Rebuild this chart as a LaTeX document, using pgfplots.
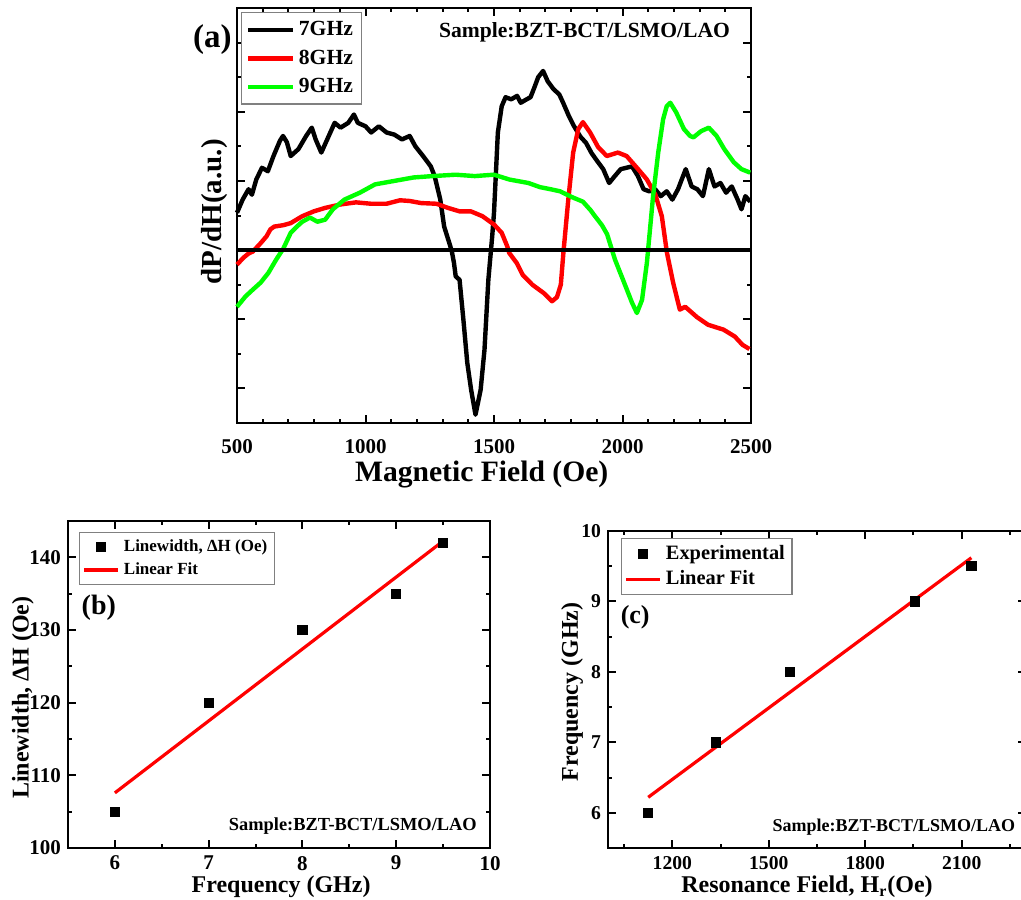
\documentclass[border=0pt]{standalone}
\usepackage{fontspec}
\setmainfont{Liberation Serif}
\usepackage{pgfplots}
\pgfplotsset{compat=1.18}

\definecolor{fmrred}{RGB}{255,0,0}
\definecolor{fmrgreen}{RGB}{0,255,0}

\pgfplotsset{
  panel/.style={
    scale only axis,
    axis line style={line width=1.3pt},
    every tick/.style={black, line width=1pt},
    major tick length=4pt, minor tick length=2pt,
    tick align=inside,
    /pgf/number format/assume math mode=true,
    /pgf/number format/1000 sep={},
    tick label style={font=\fontsize{10.5}{12}\selectfont\bfseries},
    label style={font=\fontsize{12}{14}\selectfont\bfseries},
    legend cell align=left,
    clip=false,
  }
}

\begin{document}
\begin{tikzpicture}
% ---------------- (a) FMR derivative spectra ----------------
\begin{axis}[panel,
  at={(118.5pt,-211.5pt)}, anchor=south west,
  width=257pt, height=207.5pt,
  xmin=500, xmax=2500, ymin=-2.5, ymax=3.5,
  xtick={500,1000,...,2500}, minor x tick num=4,
  ytick={-2,-1,...,3}, minor y tick num=1, yticklabels={},
  xticklabel style={yshift=-4.5pt},
  xlabel={Magnetic Field (Oe)}, ylabel={dP/dH(a.u.)},
  xlabel style={font=\fontsize{14.8}{16}\selectfont\bfseries,
    at={(axis description cs:0.476,-0.125)}, anchor=center},
  ylabel style={font=\fontsize{14.5}{16}\selectfont\bfseries,
    at={(axis description cs:-0.044,0.509)}, anchor=center},
  legend style={at={(axis description cs:0.008,0.99)}, anchor=north west,
    draw=gray, line width=0.6pt, font=\fontsize{10.8}{12}\selectfont\bfseries,
    row sep=1.6pt, inner sep=2.2pt},
  legend image code/.code={\draw[#1] (0cm,0cm) -- (0.78cm,0cm);},
]
\addplot[black, line width=2.2pt, line join=round] coordinates {
(500,0.54) (522,0.73) (545,0.88) (558,0.80) (575,1.02) (597,1.19) (620,1.14)
(642,1.36) (667,1.58) (679,1.65) (694,1.56) (709,1.36) (739,1.46) (769,1.65)
(791,1.77) (806,1.60) (828,1.41) (851,1.60) (880,1.84) (903,1.77) (933,1.84)
(955,1.96) (970,1.84) (1000,1.79) (1022,1.70) (1052,1.79) (1082,1.70) (1112,1.67)
(1142,1.60) (1172,1.65) (1194,1.50) (1224,1.36) (1254,1.21) (1269,1.07) (1291,0.73)
(1306,0.34) (1328,0.08) (1336,-0.02) (1344,-0.18) (1351,-0.38) (1366,-0.43)
(1381,-1.01) (1396,-1.63) (1411,-2.02) (1428,-2.38) (1448,-2.02) (1463,-1.44)
(1478,-0.43) (1493,0.20) (1500,0.54) (1515,1.70) (1530,2.08) (1545,2.21)
(1567,2.18) (1590,2.23) (1604,2.13) (1627,2.18) (1642,2.21) (1657,2.35)
(1672,2.50) (1691,2.59) (1709,2.44) (1731,2.33) (1754,2.25) (1769,2.13)
(1791,1.94) (1810,1.80) (1836,1.64) (1858,1.55) (1880,1.40) (1903,1.28)
(1925,1.17) (1948,0.97) (1970,1.07) (1993,1.17) (2015,1.19) (2037,1.21)
(2060,1.07) (2082,0.88) (2104,0.85) (2127,0.88) (2149,0.78) (2172,0.85)
(2194,0.73) (2216,0.88) (2246,1.17) (2269,0.92) (2291,0.88) (2313,0.78)
(2336,1.17) (2358,0.92) (2381,0.97) (2403,0.83) (2425,0.92) (2448,0.73)
(2463,0.59) (2478,0.78) (2497,0.70)
};
\addlegendentry{7GHz}
\addplot[fmrred, line width=2.2pt, line join=round] coordinates {
(500,-0.21) (525,-0.11) (545,-0.05) (562,-0.02) (592,0.10) (615,0.20) (630,0.30)
(645,0.34) (680,0.36) (709,0.39) (754,0.49) (799,0.56) (843,0.61) (903,0.66)
(963,0.69) (1022,0.67) (1082,0.67) (1134,0.72) (1172,0.71) (1216,0.68) (1276,0.67)
(1321,0.61) (1366,0.56) (1410,0.56) (1455,0.49) (1500,0.37) (1530,0.25) (1552,0.05)
(1559,-0.04) (1589,-0.19) (1612,-0.36) (1649,-0.50) (1693,-0.62) (1726,-0.74)
(1745,-0.68) (1760,-0.50) (1770,-0.04) (1788,0.69) (1808,1.41) (1828,1.75)
(1846,1.85) (1874,1.70) (1905,1.49) (1939,1.36) (1982,1.41) (2016,1.36)
(2056,1.19) (2095,1.02) (2128,0.80) (2153,0.49) (2173,-0.04) (2197,-0.47)
(2223,-0.86) (2244,-0.82) (2290,-0.97) (2333,-1.08) (2393,-1.15) (2437,-1.25)
(2467,-1.37) (2494,-1.43)
};
\addlegendentry{8GHz}
\addplot[fmrgreen, line width=2.2pt, line join=round] coordinates {
(500,-0.82) (533,-0.67) (562,-0.57) (592,-0.47) (622,-0.33) (652,-0.14) (680,0.02)
(709,0.25) (730,0.33) (754,0.41) (784,0.47) (813,0.41) (843,0.44) (873,0.59)
(918,0.73) (978,0.83) (1037,0.95) (1112,1.00) (1187,1.05) (1261,1.07) (1351,1.09)
(1425,1.07) (1500,1.09) (1560,1.02) (1634,0.97) (1679,0.91) (1720,0.88) (1757,0.85)
(1807,0.76) (1846,0.70) (1875,0.58) (1893,0.49) (1920,0.36) (1940,0.23)
(1971,-0.14) (2002,-0.43) (2037,-0.76) (2056,-0.91) (2076,-0.72) (2095,-0.18)
(2119,0.78) (2139,1.41) (2158,1.89) (2172,2.08) (2186,2.13) (2209,1.99)
(2239,1.75) (2263,1.65) (2276,1.63) (2306,1.72) (2336,1.77) (2366,1.65)
(2396,1.46) (2433,1.27) (2463,1.17) (2497,1.12)
};
\addlegendentry{9GHz}
% zero baseline
\addplot[black, line width=1.6pt, forget plot] coordinates {(500,0) (2500,0)};
\node[font=\fontsize{16.5}{18}\selectfont\bfseries, anchor=center]
  at (axis description cs:-0.048,0.925) {(a)};
\node[font=\fontsize{10.8}{12}\selectfont\bfseries, anchor=center]
  at (axis description cs:0.676,0.942) {Sample:BZT-BCT/LSMO/LAO};
\end{axis}

% ---------------- (b) linewidth vs frequency ----------------
\begin{axis}[panel,
  at={(34pt,-424pt)}, anchor=south west,
  width=211pt, height=163.5pt,
  xmin=5.5, xmax=10, ymin=100, ymax=145,
  xtick={5,6,...,10}, minor x tick num=1,
  ytick={100,110,...,150}, minor y tick num=1,
  xticklabel style={yshift=-0.5pt},
  xlabel={Frequency (GHz)}, ylabel={Linewidth, ΔH (Oe)},
  xlabel style={at={(axis description cs:0.505,-0.118)}, anchor=center},
  ylabel style={at={(axis description cs:-0.107,0.46)}, anchor=center},
  legend style={at={(axis description cs:0.026,0.966)}, anchor=north west,
    draw=gray, line width=0.6pt, font=\fontsize{8.5}{10}\selectfont\bfseries,
    row sep=0pt, inner sep=1.5pt},
]
\addplot[only marks, mark=square*, mark size=2.3pt, black] coordinates {
(6,105) (7,120) (8,130) (9,135) (9.5,142)
};
\addlegendentry{Linewidth, ΔH (Oe)}
\addplot[fmrred, line width=1.6pt] coordinates {(6,107.59) (9.5,142.24)};
\addlegendentry{Linear Fit}
\node[font=\fontsize{14}{16}\selectfont\bfseries, anchor=center]
  at (axis description cs:0.073,0.734) {(b)};
\node[font=\fontsize{9.2}{11}\selectfont\bfseries, anchor=center]
  at (axis description cs:0.675,0.067) {Sample:BZT-BCT/LSMO/LAO};
\end{axis}

% ---------------- (c) frequency vs resonance field ----------------
\begin{axis}[panel,
  at={(304pt,-424pt)}, anchor=south west,
  width=209pt, height=158.5pt,
  xmin=1000, xmax=2300, ymin=5.5, ymax=10,
  xtick={900,1200,...,2400}, minor x tick num=1,
  ytick={5,6,...,10}, minor y tick num=1,
  tick label style={font=\fontsize{9.8}{11}\selectfont\bfseries},
  xticklabel style={yshift=-0.5pt},
  xlabel={Resonance Field, H\textsubscript{r}(Oe)}, ylabel={Frequency (GHz)},
  xlabel style={at={(axis description cs:0.476,-0.122)}, anchor=center},
  ylabel style={at={(axis description cs:-0.086,0.492)}, anchor=center},
  legend style={at={(axis description cs:0.031,0.978)}, anchor=north west,
    draw=gray, line width=0.6pt, font=\fontsize{10.2}{12}\selectfont\bfseries,
    row sep=0pt, inner sep=1.5pt},
]
\addplot[only marks, mark=square*, mark size=2.3pt, black] coordinates {
(1125,6) (1335,7) (1565,8) (1955,9) (2130,9.5)
};
\addlegendentry{Experimental}
\addplot[fmrred, line width=1.6pt] coordinates {(1125,6.22) (2130,9.62)};
\addlegendentry{Linear Fit}
\node[font=\fontsize{13}{15}\selectfont\bfseries, anchor=center]
  at (axis description cs:0.065,0.729) {(c)};
\node[font=\fontsize{9}{11}\selectfont\bfseries, anchor=center]
  at (axis description cs:0.684,0.066) {Sample:BZT-BCT/LSMO/LAO};
\end{axis}

\pgfresetboundingbox
\useasboundingbox (0pt,0pt) rectangle (510.5pt,-449.5pt);
\end{tikzpicture}
\end{document}
